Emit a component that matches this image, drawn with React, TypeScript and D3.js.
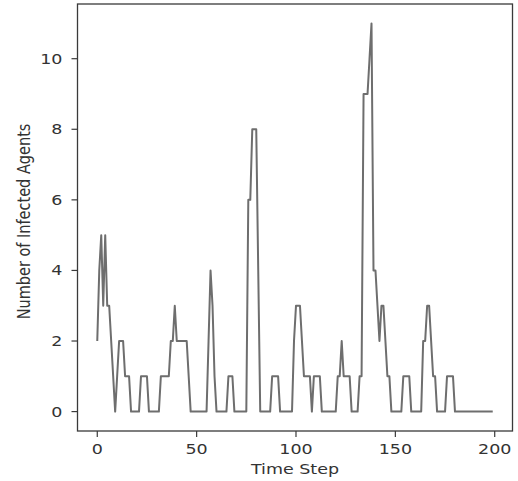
import { useEffect, useRef } from 'react';
import * as d3 from 'd3';

// infected counts per time step (t = 0..199)
const infected: number[] = [
    2, 4, 5, 3, 5, 3, 3, 2, 1, 0,
    1, 2, 2, 2, 1, 1, 1, 0, 0, 0,
    0, 0, 1, 1, 1, 1, 0, 0, 0, 0,
    0, 0, 1, 1, 1, 1, 1, 2, 2, 3,
    2, 2, 2, 2, 2, 2, 1, 0, 0, 0,
    0, 0, 0, 0, 0, 0, 2, 4, 3, 1,
    0, 0, 0, 0, 0, 0, 1, 1, 1, 0,
    0, 0, 0, 0, 0, 0, 6, 6, 8, 8,
    8, 4, 0, 0, 0, 0, 0, 0, 1, 1,
    1, 1, 0, 0, 0, 0, 0, 0, 0, 2,
    3, 3, 3, 2, 1, 1, 1, 1, 0, 1,
    1, 1, 1, 0, 0, 0, 0, 0, 0, 0,
    0, 1, 1, 2, 1, 1, 1, 1, 0, 0,
    0, 0, 1, 1, 9, 9, 9, 10, 11, 4,
    4, 3, 2, 3, 3, 2, 1, 1, 0, 0,
    0, 0, 0, 0, 1, 1, 1, 1, 0, 0,
    0, 0, 0, 0, 2, 2, 3, 3, 2, 1,
    1, 0, 0, 0, 0, 0, 1, 1, 1, 1,
    0, 0, 0, 0, 0, 0, 0, 0, 0, 0,
    0, 0, 0, 0, 0, 0, 0, 0, 0, 0,
];
const xTicks = [0, 50, 100, 150, 200];
const yTicks = [0, 2, 4, 6, 8, 10];
const xLabel = 'Time Step';
const yLabel = 'Number of Infected Agents';

const W = 518;
const H = 481;
const FONT = 'DejaVu Sans, sans-serif';
const STRETCH = 1.25; // the picture is a bit wide, text looks stretched

const InfectionChart = () => {
    const svgRef = useRef<SVGSVGElement>(null);

    useEffect(() => {
        const svg = d3.select(svgRef.current);
        svg.selectAll('*').remove();

        const box = { left: 77.5, right: 512.5, top: 4, bottom: 431 };

        const n = infected.length - 1;
        const xPad = n * 0.05;
        const yMax = d3.max(infected) as number;
        const yPad = yMax * 0.05;

        const x = d3.scaleLinear()
            .domain([-xPad, n + xPad])
            .range([box.left, box.right]);
        const y = d3.scaleLinear()
            .domain([-yPad, yMax + yPad])
            .range([box.bottom, box.top]);

        svg.append('rect')
            .attr('width', W)
            .attr('height', H)
            .attr('fill', '#fff');

        // the series
        const line = d3.line<number>()
            .x((_, i) => x(i))
            .y(d => y(d));

        svg.append('path')
            .datum(infected)
            .attr('d', line)
            .attr('fill', 'none')
            .attr('stroke', '#6e6e6e')
            .attr('stroke-width', 2)
            .attr('stroke-linejoin', 'round');

        // frame
        svg.append('rect')
            .attr('x', box.left)
            .attr('y', box.top)
            .attr('width', box.right - box.left)
            .attr('height', box.bottom - box.top)
            .attr('fill', 'none')
            .attr('stroke', '#3a3a3a')
            .attr('stroke-width', 1.3);

        // x ticks
        const xt = svg.append('g');
        xTicks.forEach(t => {
            xt.append('line')
                .attr('x1', x(t)).attr('x2', x(t))
                .attr('y1', box.bottom).attr('y2', box.bottom + 6)
                .attr('stroke', '#3a3a3a')
                .attr('stroke-width', 1.2);
            xt.append('text')
                .attr('transform', `translate(${x(t)},454) scale(${STRETCH},1)`)
                .attr('text-anchor', 'middle')
                .attr('fill', '#333')
                .style('font-family', FONT)
                .style('font-size', '14px')
                .text(t);
        });

        // y ticks
        const yt = svg.append('g');
        yTicks.forEach(t => {
            yt.append('line')
                .attr('x1', box.left - 6).attr('x2', box.left)
                .attr('y1', y(t)).attr('y2', y(t))
                .attr('stroke', '#3a3a3a')
                .attr('stroke-width', 1.2);
            yt.append('text')
                .attr('transform', `translate(${box.left - 15},${y(t)}) scale(${STRETCH},1)`)
                .attr('text-anchor', 'end')
                .attr('dy', '0.36em')
                .attr('fill', '#333')
                .style('font-family', FONT)
                .style('font-size', '14px')
                .text(t);
        });

        // axis labels
        svg.append('text')
            .attr('transform', `translate(${(box.left + box.right) / 2},474) scale(${STRETCH},1)`)
            .attr('text-anchor', 'middle')
            .attr('fill', '#333')
            .style('font-family', FONT)
            .style('font-size', '14px')
            .text(xLabel);

        svg.append('text')
            .attr('transform', `translate(30,${(box.top + box.bottom) / 2 + 4}) scale(${STRETCH},1) rotate(-90)`)
            .attr('text-anchor', 'middle')
            .attr('fill', '#333')
            .style('font-family', FONT)
            .style('font-size', '14.5px')
            .text(yLabel);
    }, []);

    return <svg ref={svgRef} width={W} height={H} style={{ display: 'block' }} />;
};

export default function App() {
    return (
        <div style={{ position: 'absolute', left: 0, top: 0 }}>
            <InfectionChart />
        </div>
    );
}
